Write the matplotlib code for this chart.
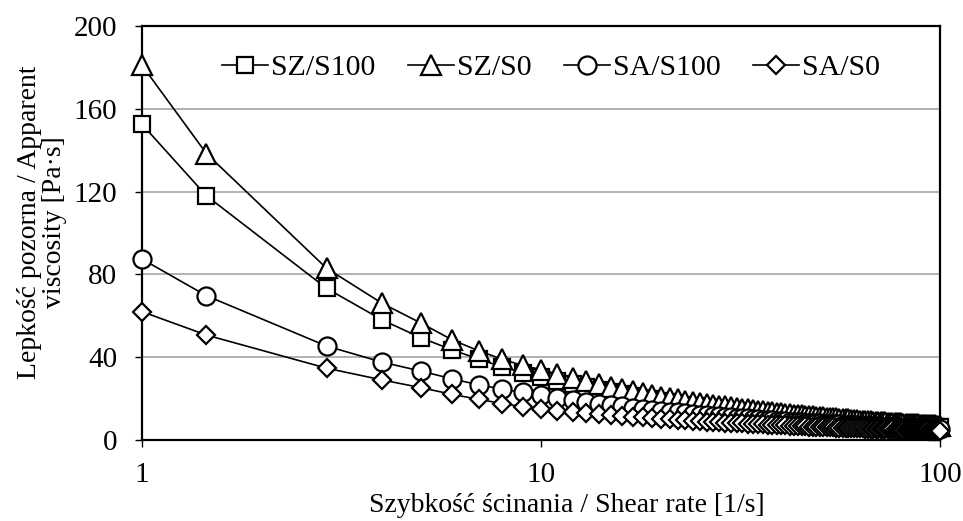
import matplotlib
matplotlib.use('Agg')
import matplotlib.pyplot as plt
from matplotlib.ticker import FixedLocator, NullLocator

plt.rcParams['font.family'] = ['Liberation Serif', 'DejaVu Serif']

# shear rate [1/s]
shear_rate = [1, 1.45, 2.9] + list(range(4, 101))

sz_s100 = [152.5, 118.0, 73.3, 58.0, 49.4, 43.5, 39.0, 35.3, 32.5, 30.6,
           28.6, 26.9, 25.5, 24.2, 23.1, 22.1, 21.1, 20.3, 19.6, 18.9,
           18.2, 17.7, 17.1, 16.6, 16.2, 15.7, 15.3, 14.9, 14.6, 14.2,
           13.9, 13.6, 13.3, 13.0, 12.8, 12.5, 12.3, 12.1, 11.9, 11.6,
           11.4, 11.3, 11.1, 10.9, 10.7, 10.6, 10.4, 10.3, 10.1, 10.0,
           9.8, 9.7, 9.6, 9.4, 9.3, 9.2, 9.1, 9.0, 8.9, 8.8,
           8.7, 8.6, 8.5, 8.4, 8.3, 8.2, 8.1, 8.0, 8.0, 7.9,
           7.8, 7.7, 7.7, 7.6, 7.5, 7.4, 7.4, 7.3, 7.2, 7.2,
           7.1, 7.1, 7.0, 6.9, 6.9, 6.8, 6.8, 6.7, 6.7, 6.6,
           6.6, 6.5, 6.5, 6.4, 6.4, 6.3, 6.3, 6.2, 6.2, 6.1]

sz_s0 = [181.0, 138.4, 83.0, 66.0, 56.5, 48.3, 43.0, 39.0, 36.0, 34.0,
         31.8, 29.9, 28.3, 26.9, 25.6, 24.5, 23.5, 22.6, 21.7, 21.0,
         20.3, 19.6, 19.0, 18.5, 18.0, 17.5, 17.0, 16.6, 16.2, 15.8,
         15.5, 15.1, 14.8, 14.5, 14.2, 13.9, 13.7, 13.4, 13.2, 12.9,
         12.7, 12.5, 12.3, 12.1, 11.9, 11.7, 11.6, 11.4, 11.2, 11.1,
         10.9, 10.8, 10.6, 10.5, 10.4, 10.2, 10.1, 10.0, 9.9, 9.8,
         9.6, 9.5, 9.4, 9.3, 9.2, 9.1, 9.0, 8.9, 8.8, 8.8,
         8.7, 8.6, 8.5, 8.4, 8.3, 8.3, 8.2, 8.1, 8.1, 8.0,
         7.9, 7.8, 7.8, 7.7, 7.7, 7.6, 7.5, 7.5, 7.4, 7.4,
         7.3, 7.2, 7.2, 7.1, 7.1, 7.0, 7.0, 6.9, 6.9, 6.8]

sa_s100 = [87.4, 69.7, 45.4, 37.6, 33.3, 29.5, 26.6, 24.6, 23.0, 21.7,
           20.5, 19.4, 18.4, 17.6, 16.9, 16.2, 15.6, 15.1, 14.6, 14.1,
           13.7, 13.3, 12.9, 12.6, 12.3, 12.0, 11.7, 11.5, 11.2, 11.0,
           10.8, 10.6, 10.4, 10.2, 10.0, 9.8, 9.6, 9.5, 9.3, 9.2,
           9.0, 8.9, 8.8, 8.7, 8.5, 8.4, 8.3, 8.2, 8.1, 8.0,
           7.9, 7.8, 7.7, 7.6, 7.5, 7.5, 7.4, 7.3, 7.2, 7.1,
           7.1, 7.0, 6.9, 6.9, 6.8, 6.7, 6.7, 6.6, 6.6, 6.5,
           6.4, 6.4, 6.3, 6.3, 6.2, 6.2, 6.1, 6.1, 6.0, 6.0,
           5.9, 5.9, 5.8, 5.8, 5.8, 5.7, 5.7, 5.6, 5.6, 5.6,
           5.5, 5.5, 5.4, 5.4, 5.4, 5.3, 5.3, 5.3, 5.2, 5.2]

sa_s0 = [62.0, 50.7, 34.7, 29.0, 25.3, 22.0, 19.6, 17.6, 16.1, 14.9,
         14.1, 13.4, 12.9, 12.4, 12.0, 11.6, 11.2, 10.9, 10.6, 10.3,
         10.0, 9.8, 9.5, 9.3, 9.1, 8.9, 8.8, 8.6, 8.4, 8.3,
         8.2, 8.0, 7.9, 7.8, 7.6, 7.5, 7.4, 7.3, 7.2, 7.1,
         7.0, 6.9, 6.9, 6.8, 6.7, 6.6, 6.5, 6.5, 6.4, 6.3,
         6.3, 6.2, 6.1, 6.1, 6.0, 6.0, 5.9, 5.9, 5.8, 5.8,
         5.7, 5.7, 5.6, 5.6, 5.5, 5.5, 5.4, 5.4, 5.3, 5.3,
         5.3, 5.2, 5.2, 5.2, 5.1, 5.1, 5.0, 5.0, 5.0, 4.9,
         4.9, 4.9, 4.9, 4.8, 4.8, 4.8, 4.7, 4.7, 4.7, 4.6,
         4.6, 4.6, 4.6, 4.5, 4.5, 4.5, 4.5, 4.4, 4.4, 4.4]

series = [
    ('SZ/S100', sz_s100, 's', 11),
    ('SZ/S0', sz_s0, '^', 14),
    ('SA/S100', sa_s100, 'o', 13),
    ('SA/S0', sa_s0, 'D', 9.5),
]

fig = plt.figure(figsize=(9.63, 5.21), dpi=100)
ax = fig.add_axes([0.1475, 0.1555, 0.8285, 0.7945])

for name, vals, marker, ms in series:
    ax.plot(shear_rate, vals, color='black', linewidth=1.2,
            marker=marker, markersize=ms, markerfacecolor='white',
            markeredgecolor='black', markeredgewidth=1.6, label=name,
            clip_on=False, zorder=3)

ax.set_xscale('log')
ax.set_xlim(1, 100)
ax.set_ylim(0, 200)
ax.xaxis.set_major_locator(FixedLocator([1, 10, 100]))
ax.xaxis.set_minor_locator(NullLocator())
ax.set_xticklabels(['1', '10', '100'])
ax.set_yticks([0, 40, 80, 120, 160, 200])

ax.grid(axis='y', color='#a6a6a6', linewidth=1.2)
ax.set_axisbelow(True)
for side in ['left', 'bottom', 'top', 'right']:
    ax.spines[side].set_color('black')
    ax.spines[side].set_linewidth(1.6)

ax.tick_params(axis='both', labelsize=21, direction='out', length=5,
               width=1, colors='black')
ax.tick_params(axis='y', pad=13)
ax.tick_params(axis='x', pad=11)

# axis titles placed like the original (x title sits a bit right of centre)
fig.text(567 / 963, 1 - 505 / 521, 'Szybkość ścinania / Shear rate [1/s]',
         fontsize=20, ha='center', va='center')
fig.text(42 / 963, 1 - 222 / 521, 'Lepkość pozorna / Apparent\nviscosity [Pa·s]',
         fontsize=20, ha='center', va='center', rotation=90,
         multialignment='center', linespacing=1.0)

ax.legend(loc='center', bbox_to_anchor=(0.5125, 0.899), ncol=4, frameon=False,
          fontsize=21.5, handlelength=1.55, handletextpad=0.1,
          columnspacing=1.08, borderaxespad=0)

plt.savefig('out.png', dpi=100)
